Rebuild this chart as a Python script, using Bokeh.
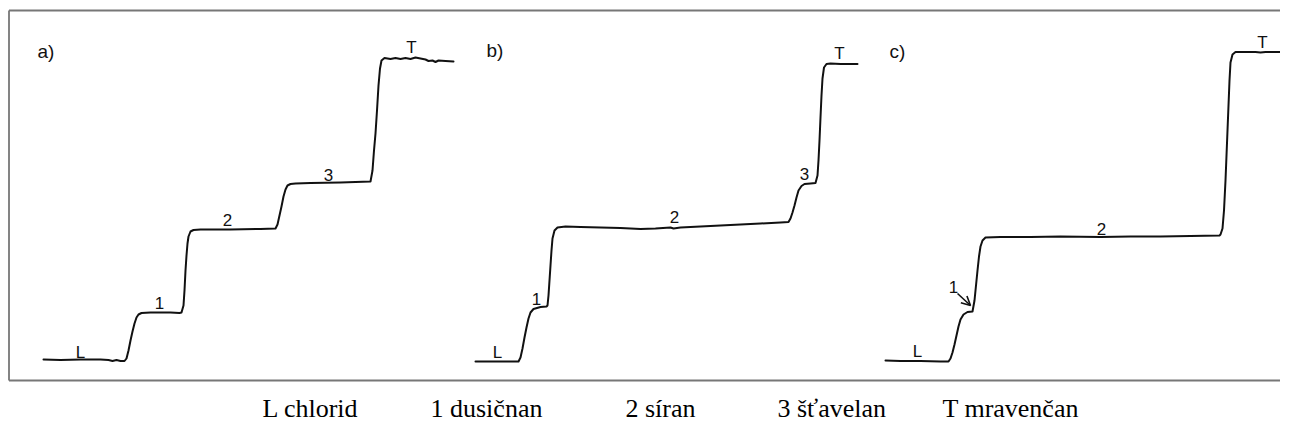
from bokeh.plotting import figure
from bokeh.models import Range1d, Arrow, OpenHead
from bokeh.core.properties import value
from bokeh.embed import file_html
from bokeh.resources import INLINE

# Traces: (position, signal)
trace_a = [(43,21),(60,20.5),(80,21),(100,21),(108,20.5),(112,19.5),(116,20.5),(120,19.5),(124,19.5),
           (126,22),(128,30),(130,40),(132,49),(134,57),(136,63),(138,66),(141,67.5),(150,68),(160,68),
           (170,68),(179,67.5),(181,68),(183,75),(184,90),(185,110),(186,125),(187,137),(188,144),(190,149),
           (193,150.5),(200,151),(230,151),(260,151.5),(275,152),(277,156),(279,165),(281,174),(283,184),
           (285,191),(287,195),(290,196.5),(295,197),(310,197.5),(340,198),(370,199),(372,210),(373.5,230),
           (375,247),(376.5,270),(378,295),(379.5,312),(381,320),(384,322.5),(390,321.5),(395,322.5),
           (400,321.5),(405,322.5),(410,321.5),(415,323),(420,322),(425,321),(428,319.5),(432,320),
           (435,318.5),(438,320),(445,319.5),(453,319)]
trace_b = [(475,19),(490,19),(505,19),(518,19),(520,23),(522,32),(524,43),(526,53),(528,62),(530,68),
           (533,71.5),(540,73.5),(546,74),(547,75),(548,85),(549,100),(550,115),(551,130),(552,142),
           (554,150),(557,153),(565,154),(580,153.5),(600,153),(620,152.5),(640,151.5),(655,152),(670,153),
           (673,152),(680,153),(700,154),(720,155),(740,156),(760,157),(780,158),(788,158.5),(790,162),
           (792,168),(794,175),(796,183),(798,190),(801,194.5),(804,196.5),(810,197),(815,197.5),(817,205),
           (818,220),(819,240),(820,263),(821,285),(822,302),(823.5,313),(826,316.5),(830,317),(840,316.5),
           (850,316.5),(857,316.5)]
trace_c = [(885,20),(900,19.5),(920,19.5),(940,19),(948,19),(950,22),(952,28),(954,36),(956,45),(958,54),
           (960,61),(963,66),(967,68.5),(972,69),(974,80),(975.5,95),(977,110),(978.5,124),(980,134),
           (982,140),(985,143),(1000,143.5),(1030,143.5),(1060,144),(1100,143.5),(1130,144),(1160,144),
           (1190,144.5),(1219,145),(1220,146),(1222,152),(1223.5,170),(1225,200),(1226,225),(1227,250),
           (1228,275),(1229,300),(1230,318),(1232,326),(1235,328.5),(1245,328.5),(1255,328.5),(1260,328),
           (1265,328.5),(1275,328.5),(1285,328.5),(1293,328.5)]

# Zone labels on the traces
zone_text = ["L", "1", "2", "3", "T",
             "L", "1", "2", "3", "T",
             "L", "1", "2", "T"]
zone_x = [80, 159, 227, 328, 411,
          497, 536, 674, 804, 839,
          917, 953, 1101, 1262]
zone_y = [28, 78, 161, 206, 333,
          28, 82, 164, 207, 327,
          29, 94, 152, 338]

panel_text = ["a)", "b)", "c)"]
panel_x = [37, 486, 889]
panel_y = [329, 330, 329]

legend_text = ["L chlorid", "1 dusičnan", "2 síran", "3 šťavelan", "T mravenčan"]
legend_x = [262, 430, 625, 777, 942]
legend_y = [-28, -28, -28, -28, -28]

# frame box (left, bottom, top)
box_left, box_bottom, box_top = 8.5, 0, 370

p = figure(width=1280, height=425, output_backend="svg", toolbar_location=None,
           x_range=Range1d(0, 1280), y_range=Range1d(-45, 380),
           x_axis_location=None, y_axis_location=None, min_border=0)
p.outline_line_color = None
p.xgrid.visible = False
p.ygrid.visible = False
p.background_fill_color = "white"

# box
p.segment(x0=[box_left, box_left, box_left], y0=[box_top, box_bottom, box_bottom],
          x1=[1400, 1400, box_left], y1=[box_top, box_bottom, box_top],
          line_color="#777777", line_width=1.8)

for tr in (trace_a, trace_b, trace_c):
    xs = [q[0] for q in tr]
    ys = [q[1] for q in tr]
    p.line(xs, ys, line_color="#111111", line_width=2, line_join="round", line_cap="round")

p.text(x=zone_x, y=zone_y, text=zone_text, text_align="center", text_baseline="middle",
       text_font=value("Liberation Sans"), text_font_size="17px", text_color="#111111")
p.text(x=panel_x, y=panel_y, text=panel_text, text_align="left", text_baseline="middle",
       text_font=value("Liberation Sans"), text_font_size="19px", text_color="#111111")

p.add_layout(Arrow(end=OpenHead(size=9, line_width=1.6, line_color="#111111"),
                   x_start=957, y_start=87, x_end=970, y_end=75,
                   line_width=1.6, line_color="#111111"))

p.text(x=legend_x, y=legend_y, text=legend_text, text_align="left", text_baseline="middle",
       text_font=value("Liberation Serif"), text_font_size="26px", text_color="#000000")

open("out.html", "w").write(file_html(p, INLINE))
